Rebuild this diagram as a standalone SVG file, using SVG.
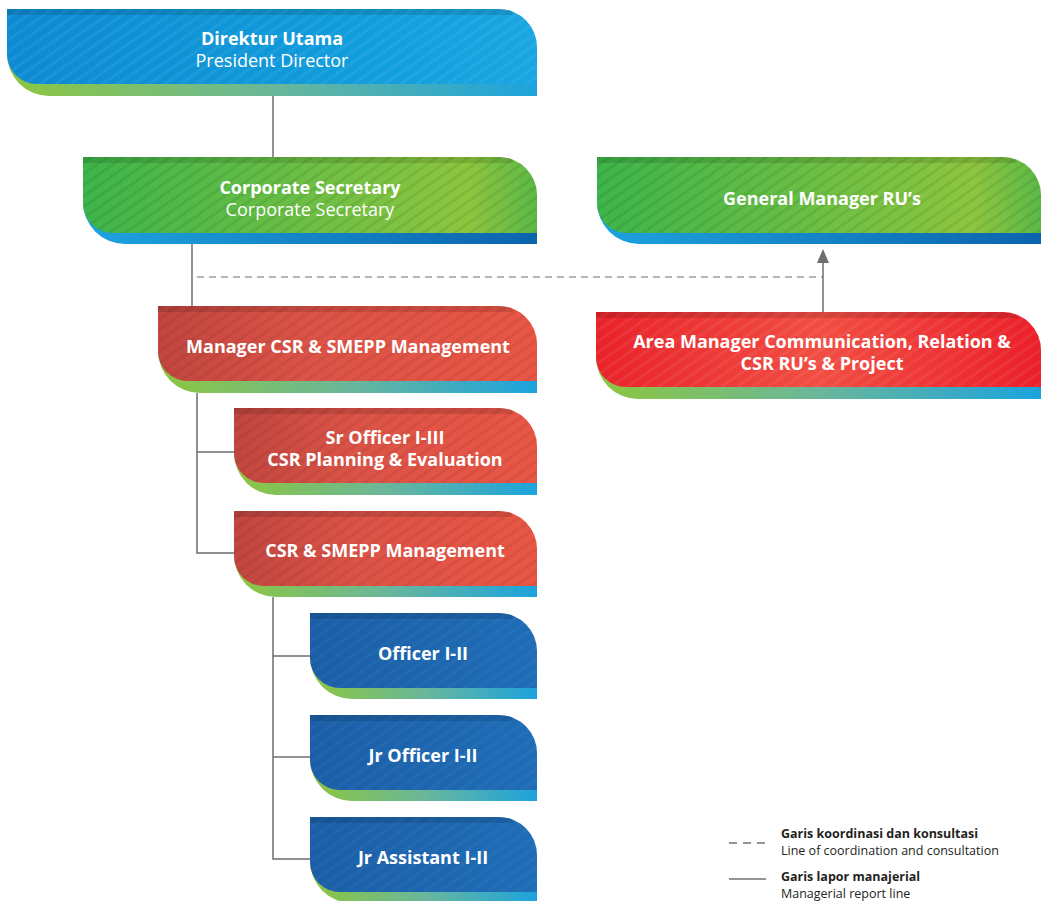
<svg xmlns="http://www.w3.org/2000/svg" width="1041" height="901" viewBox="0 0 1041 901">
<style>
.t{font-family:"Open Sans",Lato,"Liberation Sans",sans-serif;fill:#fff;text-anchor:middle;font-size:18px}
.b{font-weight:700}
.r{font-weight:400}
.ln{stroke:#6d6e71;stroke-width:1.5;fill:none}
.dash{stroke:#6d6e71;stroke-width:1.2;stroke-dasharray:7 5;fill:none}
.lg{font-family:"Open Sans",Lato,"Liberation Sans",sans-serif;fill:#231f20;font-size:12.5px}
.top{fill:#000;opacity:0.12}
</style>
<defs>
<linearGradient id="gBlueL" x1="0" y1="0" x2="1" y2="0"><stop offset="0" stop-color="#0d8ad2"/><stop offset="0.6" stop-color="#109bdb"/><stop offset="1" stop-color="#1aa6e2"/></linearGradient>
<linearGradient id="gGreen" x1="0" y1="0" x2="1" y2="0"><stop offset="0" stop-color="#3db54a"/><stop offset="0.5" stop-color="#6dbf44"/><stop offset="0.85" stop-color="#8dc63f"/><stop offset="1" stop-color="#5cb946"/></linearGradient>
<linearGradient id="gRedM" x1="0" y1="0" x2="1" y2="0"><stop offset="0" stop-color="#c1463f"/><stop offset="0.4" stop-color="#dc5347"/><stop offset="1" stop-color="#e95645"/></linearGradient>
<linearGradient id="gRedB" x1="0" y1="0" x2="1" y2="0"><stop offset="0" stop-color="#e9222a"/><stop offset="0.5" stop-color="#f14e43"/><stop offset="1" stop-color="#eb1f2a"/></linearGradient>
<linearGradient id="gBlueD" x1="0" y1="0" x2="1" y2="0"><stop offset="0" stop-color="#1b5ea7"/><stop offset="1" stop-color="#1f6db7"/></linearGradient>
<linearGradient id="sGB" x1="0" y1="0" x2="1" y2="0"><stop offset="0" stop-color="#8dc63f"/><stop offset="0.5" stop-color="#6ab79a"/><stop offset="1" stop-color="#1ca3de"/></linearGradient>
<linearGradient id="sBB" x1="0" y1="0" x2="1" y2="0"><stop offset="0" stop-color="#1ea3df"/><stop offset="1" stop-color="#0c63ae"/></linearGradient>
<pattern id="stW" patternUnits="userSpaceOnUse" width="9" height="9" patternTransform="rotate(-35)"><rect width="9" height="3" fill="#fff"/></pattern>
<pattern id="stD" patternUnits="userSpaceOnUse" width="9" height="9" patternTransform="rotate(-35)"><rect width="9" height="3" fill="#000"/></pattern>
</defs>

<g id="connectors">
<line class="ln" x1="273" y1="96" x2="273" y2="157"/>
<line class="ln" x1="192" y1="244" x2="192" y2="306"/>
<line class="dash" x1="197" y1="277" x2="823" y2="277"/>
<line class="ln" x1="823" y1="312" x2="823" y2="262"/>
<path d="M817,263 L823,249 L829,263 Z" fill="#6d6e71"/>
<polyline class="ln" points="197,393 197,553 234,553"/>
<line class="ln" x1="197" y1="452" x2="234" y2="452"/>
<polyline class="ln" points="273,597 273,859 310,859"/>
<line class="ln" x1="273" y1="656" x2="310" y2="656"/>
<line class="ln" x1="273" y1="757" x2="310" y2="757"/>
</g>

<g id="n-direktur">
<path d="M7,54 H537 V96 H49 A42 42 0 0 1 7,54 Z" fill="url(#sGB)"/>
<path d="M7,9 H499 A38 38 0 0 1 537,47 V84 H37 A30 30 0 0 1 7,54 Z" fill="url(#gBlueL)"/>
<path d="M7,9 H499 A38 38 0 0 1 537,47 V84 H37 A30 30 0 0 1 7,54 Z" fill="url(#stW)" opacity="0.06"/>
<path d="M7,9 H499 A38 38 0 0 1 512,11.3 L513,15 H7 Z" class="top"/>
<text class="t b" x="272" y="45">Direktur Utama</text>
<text class="t r" x="272" y="67">President Director</text>
</g>

<g id="n-corpsec">
<path d="M83,202 H537 V244 H125 A42 42 0 0 1 83,202 Z" fill="url(#sBB)"/>
<path d="M83,157 H499 A38 38 0 0 1 537,195 V233 H113 A30 30 0 0 1 83,203 Z" fill="url(#gGreen)"/>
<path d="M83,157 H499 A38 38 0 0 1 537,195 V233 H113 A30 30 0 0 1 83,203 Z" fill="url(#stD)" opacity="0.07"/>
<path d="M83,157 H499 A38 38 0 0 1 512,159.3 L513,163 H83 Z" class="top"/>
<text class="t b" x="310" y="194">Corporate Secretary</text>
<text class="t r" x="310" y="216">Corporate Secretary</text>
</g>

<g id="n-gm">
<path d="M597,202 H1041 V244 H639 A42 42 0 0 1 597,202 Z" fill="url(#sBB)"/>
<path d="M597,157 H1003 A38 38 0 0 1 1041,195 V233 H627 A30 30 0 0 1 597,203 Z" fill="url(#gGreen)"/>
<path d="M597,157 H1003 A38 38 0 0 1 1041,195 V233 H627 A30 30 0 0 1 597,203 Z" fill="url(#stD)" opacity="0.07"/>
<path d="M597,157 H1003 A38 38 0 0 1 1016,159.3 L1017,163 H597 Z" class="top"/>
<text class="t b" x="822" y="205">General Manager RU’s</text>
</g>

<g id="n-mgrcsr">
<path d="M158,351 H537 V393 H200 A42 42 0 0 1 158,351 Z" fill="url(#sGB)"/>
<path d="M158,306 H499 A38 38 0 0 1 537,344 V381 H188 A30 30 0 0 1 158,351 Z" fill="url(#gRedM)"/>
<path d="M158,306 H499 A38 38 0 0 1 537,344 V381 H188 A30 30 0 0 1 158,351 Z" fill="url(#stD)" opacity="0.06"/>
<path d="M158,306 H499 A38 38 0 0 1 512,308.3 L513,312 H158 Z" class="top"/>
<text class="t b" x="348" y="353">Manager CSR &amp; SMEPP Management</text>
</g>

<g id="n-area">
<path d="M596,357 H1041 V399 H638 A42 42 0 0 1 596,357 Z" fill="url(#sGB)"/>
<path d="M596,312 H1003 A38 38 0 0 1 1041,350 V387 H626 A30 30 0 0 1 596,357 Z" fill="url(#gRedB)"/>
<path d="M596,312 H1003 A38 38 0 0 1 1041,350 V387 H626 A30 30 0 0 1 596,357 Z" fill="url(#stW)" opacity="0.06"/>
<path d="M596,312 H1003 A38 38 0 0 1 1016,314.3 L1017,318 H596 Z" class="top"/>
<text class="t b" x="822" y="348">Area Manager Communication, Relation &amp;</text>
<text class="t b" x="822" y="370">CSR RU’s &amp; Project</text>
</g>

<g id="n-sroff">
<path d="M234,453 H537 V495 H276 A42 42 0 0 1 234,453 Z" fill="url(#sGB)"/>
<path d="M234,408 H499 A38 38 0 0 1 537,446 V483 H264 A30 30 0 0 1 234,453 Z" fill="url(#gRedM)"/>
<path d="M234,408 H499 A38 38 0 0 1 537,446 V483 H264 A30 30 0 0 1 234,453 Z" fill="url(#stD)" opacity="0.06"/>
<path d="M234,408 H499 A38 38 0 0 1 512,410.3 L513,414 H234 Z" class="top"/>
<text class="t b" x="385" y="444">Sr Officer I-III</text>
<text class="t b" x="385" y="466">CSR Planning &amp; Evaluation</text>
</g>

<g id="n-csrsmepp">
<path d="M234,555 H537 V597 H276 A42 42 0 0 1 234,555 Z" fill="url(#sGB)"/>
<path d="M234,511 H499 A38 38 0 0 1 537,549 V586 H264 A30 30 0 0 1 234,556 Z" fill="url(#gRedM)"/>
<path d="M234,511 H499 A38 38 0 0 1 537,549 V586 H264 A30 30 0 0 1 234,556 Z" fill="url(#stD)" opacity="0.06"/>
<path d="M234,511 H499 A38 38 0 0 1 512,513.3 L513,517 H234 Z" class="top"/>
<text class="t b" x="385" y="557">CSR &amp; SMEPP Management</text>
</g>

<g id="n-officer">
<path d="M310,657 H537 V699 H352 A42 42 0 0 1 310,657 Z" fill="url(#sGB)"/>
<path d="M310,613 H499 A38 38 0 0 1 537,651 V688 H340 A30 30 0 0 1 310,658 Z" fill="url(#gBlueD)"/>
<path d="M310,613 H499 A38 38 0 0 1 537,651 V688 H340 A30 30 0 0 1 310,658 Z" fill="url(#stW)" opacity="0.03"/>
<path d="M310,613 H499 A38 38 0 0 1 512,615.3 L513,619 H310 Z" class="top"/>
<text class="t b" x="423" y="660">Officer I-II</text>
</g>

<g id="n-jrofficer">
<path d="M310,759 H537 V801 H352 A42 42 0 0 1 310,759 Z" fill="url(#sGB)"/>
<path d="M310,715 H499 A38 38 0 0 1 537,753 V790 H340 A30 30 0 0 1 310,760 Z" fill="url(#gBlueD)"/>
<path d="M310,715 H499 A38 38 0 0 1 537,753 V790 H340 A30 30 0 0 1 310,760 Z" fill="url(#stW)" opacity="0.03"/>
<path d="M310,715 H499 A38 38 0 0 1 512,717.3 L513,721 H310 Z" class="top"/>
<text class="t b" x="423" y="762">Jr Officer I-II</text>
</g>

<g id="n-jrassistant">
<path d="M310,861 H537 V903 H352 A42 42 0 0 1 310,861 Z" fill="url(#sGB)"/>
<path d="M310,817 H499 A38 38 0 0 1 537,855 V892 H340 A30 30 0 0 1 310,862 Z" fill="url(#gBlueD)"/>
<path d="M310,817 H499 A38 38 0 0 1 537,855 V892 H340 A30 30 0 0 1 310,862 Z" fill="url(#stW)" opacity="0.03"/>
<path d="M310,817 H499 A38 38 0 0 1 512,819.3 L513,823 H310 Z" class="top"/>
<text class="t b" x="423" y="864">Jr Assistant I-II</text>
</g>

<g id="legend">
<line x1="729" y1="843" x2="766" y2="843" stroke="#939598" stroke-width="2" stroke-dasharray="8 6"/>
<text class="lg" x="781" y="838" font-weight="700">Garis koordinasi dan konsultasi</text>
<text class="lg" x="781" y="855">Line of coordination and consultation</text>
<line x1="729" y1="879" x2="766" y2="879" stroke="#939598" stroke-width="2"/>
<text class="lg" x="781" y="881" font-weight="700">Garis lapor manajerial</text>
<text class="lg" x="781" y="898">Managerial report line</text>
</g>
</svg>
